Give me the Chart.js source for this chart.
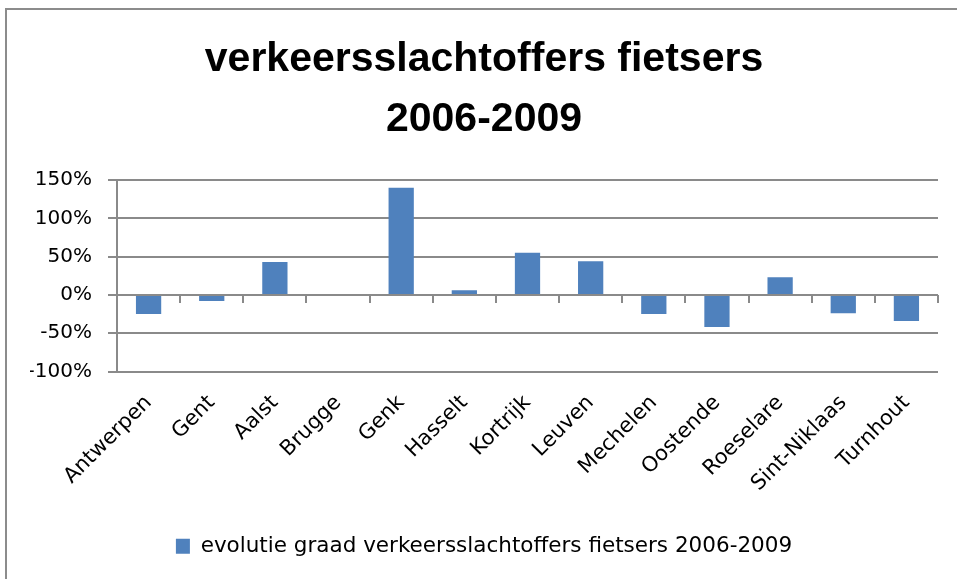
<!DOCTYPE html>
<html>
<head>
<meta charset="utf-8">
<script src="https://cdn.jsdelivr.net/npm/chart.js@4.4.1/dist/chart.umd.min.js"></script>
<style>
  html, body { margin: 0; padding: 0; background: #fff; }
  #wrap { position: relative; width: 957px; height: 579px; overflow: hidden; }
  #frame { position: absolute; left: 5px; top: 8px; width: 1000px; height: 700px;
           border-left: 2px solid #8c8c8c; border-top: 2px solid #8c8c8c; pointer-events: none; }
  canvas { position: absolute; left: 0; top: 0; }
</style>
</head>
<body>
<div id="wrap">
  <canvas id="c" width="957" height="579"></canvas>
  <div id="frame"></div>
</div>
<script>
const titleLines = ['verkeersslachtoffers fietsers', '2006-2009'];
const seriesName = 'evolutie graad verkeersslachtoffers fietsers 2006-2009';
const categories = ['Antwerpen', 'Gent', 'Aalst', 'Brugge', 'Genk', 'Hasselt', 'Kortrijk',
                    'Leuven', 'Mechelen', 'Oostende', 'Roeselare', 'Sint-Niklaas', 'Turnhout'];
const values = [-25, -8, 43, 0, 140, 6, 55, 44, -25, -42, 23, -24, -34];
const yMin = -100;
const yMax = 150;
const yStep = 50;

const GRID = '#8a8a8a';

const zeroAxisPlugin = {
  id: 'zeroAxis',
  afterDatasetsDraw(chart) {
    const xs = chart.scales.x, ys = chart.scales.y;
    const y0 = ys.getPixelForValue(0);
    const ctx = chart.ctx;
    ctx.save();
    ctx.strokeStyle = GRID;
    ctx.lineWidth = 2;
    ctx.beginPath();
    ctx.moveTo(xs.left, y0);
    ctx.lineTo(xs.right, y0);
    for (let i = 0; i <= categories.length; i++) {
      const px = Math.round(xs.getPixelForValue(i - 0.5));
      ctx.moveTo(px, y0);
      ctx.lineTo(px, y0 + 8);
    }
    ctx.stroke();
    ctx.restore();
  }
};

new Chart(document.getElementById('c'), {
  type: 'bar',
  data: {
    labels: categories,
    datasets: [{
      label: seriesName,
      data: values,
      backgroundColor: '#4F81BD',
      borderWidth: 0,
      barPercentage: 0.4,
      categoryPercentage: 1.0
    }]
  },
  options: {
    responsive: false,
    animation: false,
    layout: { padding: { left: 30, right: 19, top: 0, bottom: 12 } },
    plugins: {
      title: {
        display: true,
        text: titleLines,
        color: '#000',
        font: { family: 'Liberation Sans', size: 41, weight: 'bold', lineHeight: 1.465 },
        padding: { top: 30, bottom: 30 }
      },
      legend: {
        display: true,
        position: 'bottom',
        labels: {
          color: '#000',
          boxWidth: 14, boxHeight: 15,
          font: { family: 'DejaVu Sans', size: 21.5 },
          padding: 10
        }
      },
      tooltip: { enabled: false }
    },
    scales: {
      x: {
        grid: { display: false },
        border: { display: false },
        ticks: {
          color: '#000',
          font: { family: 'DejaVu Sans', size: 21 },
          minRotation: 45, maxRotation: 45,
          autoSkip: false,
          padding: 11
        },
        afterFit(s) { s.height = 154; }
      },
      y: {
        min: yMin, max: yMax,
        ticks: {
          stepSize: yStep,
          color: '#000',
          font: { family: 'DejaVu Sans', size: 20 },
          padding: 16,
          callback: v => v + '%'
        },
        grid: { color: GRID, lineWidth: 2, tickLength: 9 },
        border: { display: true, color: GRID, width: 2 },
        afterFit(s) { s.width = 87; }
      }
    }
  },
  plugins: [zeroAxisPlugin]
});
</script>
</body>
</html>
